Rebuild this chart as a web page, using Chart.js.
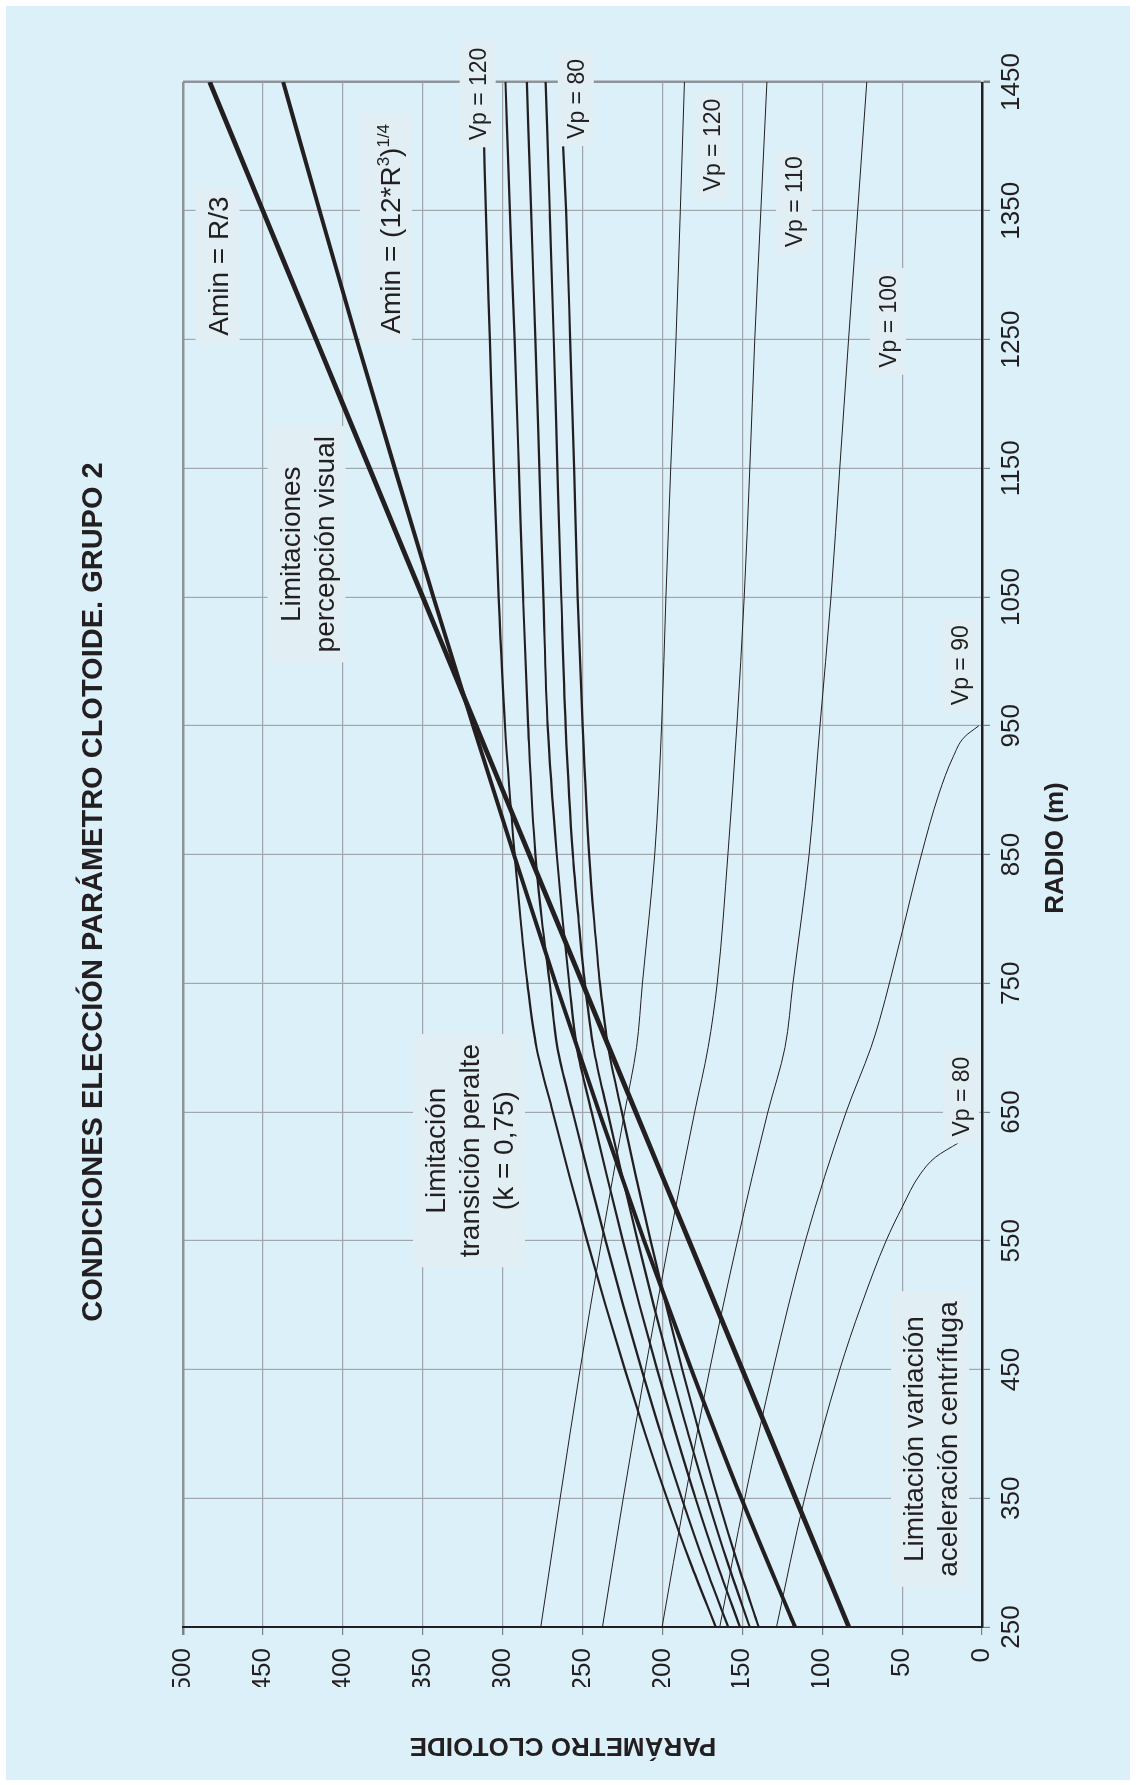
<!DOCTYPE html>
<html>
<head>
<meta charset="utf-8">
<script src="https://cdn.jsdelivr.net/npm/chart.js@4.4.1/dist/chart.umd.min.js"></script>
<style>
  html, body { margin: 0; padding: 0; background: #fff; }
  body { width: 1136px; height: 1785px; overflow: hidden; position: relative; }
  /* the chart is drawn upright and then turned a quarter left, like the printed sheet */
  #wrap { position: absolute; left: 0; top: 0; width: 1785px; height: 1136px;
          transform-origin: 0 0; transform: translateY(1785px) rotate(-90deg); }
</style>
</head>
<body>
<div id="wrap"><canvas id="chartClotoide" width="1785" height="1136"></canvas></div>
<script>
'use strict';

// ---- data read from the sheet (R in m, A = parametro clotoide) ----
const R_TICKS = [250, 350, 450, 550, 650, 750, 850, 950, 1050, 1150, 1250, 1350, 1450];

const R_AMIN = [250, 350, 450, 550, 650, 750, 850, 950, 1050, 1150, 1250, 1350, 1450];
const AMIN_R3 = [83.3, 116.7, 150.0, 183.3, 216.7, 250.0, 283.3, 316.7, 350.0, 383.3, 416.7, 450.0, 483.3];
const AMIN_ROOT = [117.0, 150.6, 181.8, 211.4, 239.6, 266.8, 293.0, 318.5, 343.3, 367.5, 391.3, 414.5, 437.3];

// limitacion transicion peralte (k = 0,75)
const R_PER_SHORT = [250, 300, 350, 400, 450, 500, 550, 600, 650, 700, 750, 800, 850, 950, 1050, 1150, 1250, 1350, 1400];
const R_PER_LONG = [250, 300, 350, 400, 450, 500, 550, 600, 650, 700, 750, 800, 850, 950, 1050, 1150, 1250, 1350, 1450];
const PER_120 = [166.6, 182.5, 197.1, 210.7, 223.5, 235.6, 247.1, 258.1, 268.6, 278.8, 284.5, 288.8, 292.5, 298.5, 302.5, 305.5, 308.0, 310.5, 311.6];
const PER_110 = [158.8, 174.0, 187.9, 200.9, 213.0, 224.6, 235.5, 246.0, 256.1, 265.7, 270.5, 275.5, 279.5, 284.0, 287.2, 289.8, 292.5, 295.5, 298.2];
const PER_100 = [151.5, 166.0, 179.3, 191.6, 203.3, 214.3, 224.7, 234.7, 244.3, 253.5, 258.3, 262.5, 266.1, 271.8, 274.5, 277.0, 279.5, 282.2, 284.8];
const PER_90 = [145.3, 159.2, 171.9, 183.8, 194.9, 205.5, 215.5, 225.1, 234.3, 243.1, 248.5, 252.5, 256.0, 260.5, 263.3, 265.7, 268.0, 270.5, 273.1];
const PER_80 = [139.8, 153.1, 165.4, 176.8, 187.6, 197.7, 207.4, 216.6, 225.4, 233.9, 239.1, 242.8, 245.8, 249.9, 253.0, 255.3, 257.7, 260.3, 262.1];

// limitacion variacion aceleracion centrifuga
const R_CF = [250, 350, 450, 550, 650, 700, 750, 850, 950, 1050, 1150, 1250, 1350, 1450];
const CF_120 = [276.1, 264.0, 251.5, 238.0, 223.6, 216.2, 212.5, 204.8, 200.5, 197.8, 194.8, 191.5, 188.8, 186.2];
const CF_110 = [237.5, 224.5, 210.7, 195.8, 179.8, 171.4, 165.7, 159.0, 153.4, 148.8, 145.3, 142.2, 138.4, 134.6];
const CF_100 = [200.2, 185.9, 170.4, 153.0, 134.0, 123.3, 118.3, 108.2, 101.4, 94.5, 89.0, 83.5, 77.8, 72.1];
const R_CF_90 = [250, 350, 450, 550, 650, 700, 721, 786, 848, 897, 926, 941, 950];
const CF_90 = [164.1, 148.4, 130.7, 110.5, 85.0, 69.5, 64.2, 50.7, 38.3, 27.0, 18.0, 11.2, 2.0];
const R_CF_80 = [250, 350, 450, 500, 550, 576, 602, 615, 626];
const CF_80 = [128.6, 111.0, 89.0, 75.5, 60.0, 50.0, 38.5, 29.0, 14.8];

const TITLE = 'CONDICIONES ELECCIÓN PARÁMETRO CLOTOIDE. GRUPO 2';
const X_TITLE = 'RADIO (m)';
const Y_TITLE = 'PARÁMETRO CLOTOIDE';

// notes inside the plot, placed in data units
const NOTES = [
  { lines: ['Amin = R/3'], r: 1307, a: 478.4, size: 28 },
  { lines: [[{ t: 'Amin = (12*R' }, { t: '3', sup: true }, { t: ')' }, { t: '1/4', sup: true }]], r: 1336, a: 373, size: 28 },
  { lines: ['Limitaciones', 'percepción visual'], r: 1091, a: 422.7, size: 28 },
  { lines: ['Limitación', 'transición peralte', '(k = 0,75)'], r: 620, a: 321, size: 28 },
  { lines: ['Limitación variación', 'aceleración centrífuga'], r: 396, a: 32.5, size: 28 },
  { lines: ['Vp = 120'], r: 1440.7, a: 315.6, size: 23 },
  { lines: ['Vp = 80'], r: 1436.8, a: 254.2, size: 23 },
  { lines: ['Vp = 120'], r: 1401, a: 169, size: 23 },
  { lines: ['Vp = 110'], r: 1357, a: 117.7, size: 23 },
  { lines: ['Vp = 100'], r: 1264, a: 58.9, size: 23 },
  { lines: ['Vp = 90'], r: 997, a: 13.8, size: 23 },
  { lines: ['Vp = 80'], r: 662, a: 13.1, size: 23 },
];

const INK = '#231f20';
const BG = '#dcf0fa';
const BOX = '#e1eef4';
const GRID = '#a0a6ab';
const NARROW = '"Liberation Sans Narrow", "Arial Narrow", "Liberation Sans", sans-serif';
const SANS = '"Liberation Sans", Arial, sans-serif';

const pts = (rs, as) => rs.map((r, i) => ({ x: r, y: as[i] }));
const line = (label, rs, as, width) => ({
  label, data: pts(rs, as), borderColor: INK, borderWidth: width,
  pointRadius: 0, fill: false, cubicInterpolationMode: 'monotone'
});

const sheetPlugin = {
  id: 'sheet',
  beforeDraw(chart) {
    const { ctx, width, height } = chart;
    ctx.save();
    ctx.fillStyle = '#ffffff';
    ctx.fillRect(0, 0, width, height);
    ctx.fillStyle = BG;
    ctx.fillRect(5, 6, width - 11, height - 12);
    ctx.restore();
  },
  afterDraw(chart) {
    const { ctx, scales: { x, y } } = chart;
    ctx.save();
    ctx.fillStyle = INK;
    ctx.textAlign = 'center';
    ctx.textBaseline = 'middle';

    ctx.font = 'bold 29px ' + NARROW;
    ctx.fillText(TITLE, 893, 94);
    ctx.font = 'bold 26px ' + NARROW;
    ctx.fillText(X_TITLE, 937, 1056);
    ctx.save();
    ctx.translate(40, 563);
    ctx.rotate(-Math.PI / 2);
    ctx.fillText(Y_TITLE, 0, 0);
    ctx.restore();

    NOTES.forEach(n => {
      const cx = x.getPixelForValue(n.r);
      const cy = y.getPixelForValue(n.a);
      const lh = n.size === 28 ? 34 : 27;
      const padX = n.size === 28 ? 10 : 7;
      const padY = n.size === 28 ? 5 : 4.5;
      const supSize = Math.round(n.size * 0.62);
      let hasSup = false;
      let w = 0;
      const rows = n.lines.map(l => {
        const segs = typeof l === 'string' ? [{ t: l }] : l;
        let lw = 0;
        segs.forEach(s => {
          if (s.sup) hasSup = true;
          ctx.font = (s.sup ? supSize : n.size) + 'px ' + SANS;
          s.w = ctx.measureText(s.t).width;
          lw += s.w;
        });
        w = Math.max(w, lw);
        return { segs, lw };
      });
      const extra = hasSup ? 8 : 0;
      const bw = w + 2 * padX;
      const bh = rows.length * lh + 2 * padY + extra;
      ctx.fillStyle = BOX;
      ctx.fillRect(cx - bw / 2, cy - bh / 2, bw, bh);
      ctx.fillStyle = INK;
      ctx.textAlign = 'left';
      ctx.textBaseline = 'alphabetic';
      let ty = cy - bh / 2 + padY + extra + lh / 2;
      rows.forEach(row => {
        let tx = cx - row.lw / 2;
        const base = ty + n.size * 0.36;
        row.segs.forEach(s => {
          ctx.font = (s.sup ? supSize : n.size) + 'px ' + SANS;
          ctx.fillText(s.t, tx, s.sup ? base - n.size * 0.38 : base);
          tx += s.w;
        });
        ty += lh;
      });
    });
    ctx.restore();
  }
};

new Chart(document.getElementById('chartClotoide'), {
  type: 'line',
  data: {
    datasets: [
      line('Amin = R/3', R_AMIN, AMIN_R3, 4.8),
      line('Amin = (12*R3)^1/4', R_AMIN, AMIN_ROOT, 4),
      line('Peralte Vp 120', R_PER_SHORT, PER_120, 2.2),
      line('Peralte Vp 110', R_PER_LONG, PER_110, 2.2),
      line('Peralte Vp 100', R_PER_LONG, PER_100, 2.2),
      line('Peralte Vp 90', R_PER_LONG, PER_90, 2.2),
      line('Peralte Vp 80', R_PER_SHORT, PER_80, 2.2),
      line('Centrifuga Vp 120', R_CF, CF_120, 1),
      line('Centrifuga Vp 110', R_CF, CF_110, 1),
      line('Centrifuga Vp 100', R_CF, CF_100, 1),
      line('Centrifuga Vp 90', R_CF_90, CF_90, 1),
      line('Centrifuga Vp 80', R_CF_80, CF_80, 1),
    ]
  },
  options: {
    responsive: false,
    animation: false,
    events: [],
    layout: { padding: { left: 98, right: 82, top: 183, bottom: 94 } },
    plugins: { legend: { display: false }, tooltip: { enabled: false }, title: { display: false } },
    scales: {
      x: {
        type: 'linear', min: 250, max: 1450,
        afterBuildTicks: s => { s.ticks = R_TICKS.map(v => ({ value: v })); },
        afterFit: s => { s.height = 60; s.paddingLeft = 0; s.paddingRight = 0; },
        border: { color: INK, width: 2.5 },
        grid: {
          color: c => (c.tick && c.tick.value === 1450 ? '#8f9499' : GRID),
          lineWidth: c => (c.tick && c.tick.value === 1450 ? 2.5 : 1.2),
          tickLength: 8, tickColor: '#7a8085'
        },
        ticks: {
          color: INK, padding: 6, maxRotation: 0,
          font: { family: NARROW, size: 26 },
          callback: v => String(v)
        }
      },
      y: {
        type: 'linear', min: 0, max: 500,
        afterFit: s => { s.width = 60; s.paddingTop = 0; s.paddingBottom = 0; },
        border: { color: INK, width: 2 },
        grid: {
          color: c => (c.tick && c.tick.value === 500 ? '#8f9499' : GRID),
          lineWidth: c => (c.tick && c.tick.value === 500 ? 2.5 : 1.2),
          tickLength: 8, tickColor: '#7a8085'
        },
        ticks: {
          color: INK, stepSize: 50, padding: 13,
          font: { family: NARROW, size: 26 },
          callback: v => String(v)
        }
      }
    }
  },
  plugins: [sheetPlugin]
});
</script>
</body>
</html>
